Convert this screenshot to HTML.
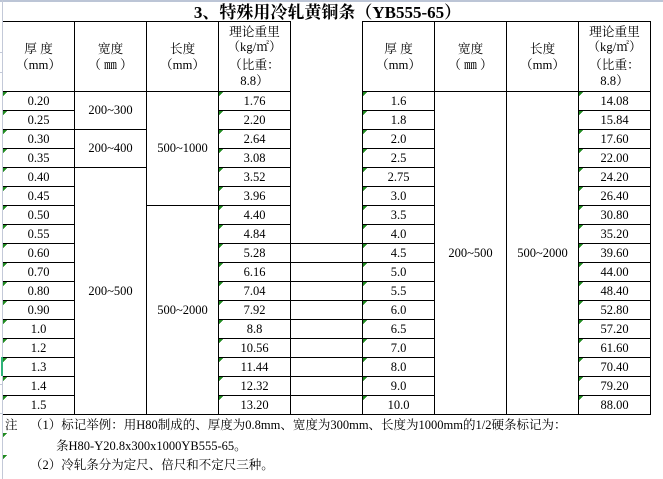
<!DOCTYPE html>
<html><head><meta charset="utf-8">
<style>
html,body{margin:0;padding:0;background:#fff;}
body{width:663px;height:479px;position:relative;overflow:hidden;font-family:"Liberation Serif","Noto Serif CJK SC",serif;color:#000;}
.t{position:absolute;white-space:nowrap;text-align:center;font-size:12.5px;line-height:19px;height:19px;}
.h{position:absolute;white-space:nowrap;text-align:center;font-size:12.7px;line-height:16px;height:16px;}
.c1{left:3px;width:71px;}
.c2{left:75px;width:71px;}
.c3{left:147px;width:71px;}
.c4{left:219px;width:71px;}
.c6{left:363px;width:71px;}
.c7{left:435px;width:71px;}
.c8{left:507px;width:71px;}
.c9{left:579px;width:71px;}
.n{position:absolute;white-space:nowrap;font-size:12.5px;line-height:19px;height:19px;}
</style></head><body>
<svg width="663" height="479" style="position:absolute;left:0;top:0" shape-rendering="crispEdges">
<defs>
<pattern id="tri1" x="3" y="91" width="10" height="19" patternUnits="userSpaceOnUse">
<polygon points="0,1 4,1 0,5" fill="#1f8a1f"/>
</pattern>
<pattern id="tri4" x="219" y="91" width="10" height="19" patternUnits="userSpaceOnUse">
<polygon points="0,1 4,1 0,5" fill="#1f8a1f"/>
</pattern>
<pattern id="tri6" x="363" y="91" width="10" height="19" patternUnits="userSpaceOnUse">
<polygon points="0,1 4,1 0,5" fill="#1f8a1f"/>
</pattern>
<pattern id="tri9" x="579" y="91" width="10" height="19" patternUnits="userSpaceOnUse">
<polygon points="0,1 4,1 0,5" fill="#1f8a1f"/>
</pattern>
</defs>
<rect x="0" y="0" width="663" height="2" fill="#bcc5d6"/>
<rect x="2" y="0" width="1" height="479" fill="#c3c9d8"/>
<rect x="0" y="52" width="2" height="1" fill="#c3c9d8"/>
<rect x="0" y="72" width="2" height="1" fill="#c3c9d8"/>
<rect x="0" y="384" width="2" height="1" fill="#c3c9d8"/>
<rect x="0" y="413" width="2" height="1" fill="#c3c9d8"/>
<rect x="1" y="357" width="2" height="19" fill="#2fb27a"/>
<g stroke="#000" stroke-width="1" fill="none">
<path d="M3 21.5H291M362 21.5H651M3 91.5H291M362 91.5H651M3 414.5H651"/>
<path d="M3 110.5H75M218 110.5H291M362 110.5H435M578 110.5H651
M3 129.5H147M218 129.5H291M362 129.5H435M578 129.5H651
M3 148.5H75M218 148.5H291M362 148.5H435M578 148.5H651
M3 167.5H147M218 167.5H291M362 167.5H435M578 167.5H651
M3 186.5H75M218 186.5H291M362 186.5H435M578 186.5H651
M3 205.5H75M146 205.5H291M362 205.5H435M578 205.5H651
M3 224.5H75M218 224.5H291M362 224.5H435M578 224.5H651
M3 243.5H75M218 243.5H435M578 243.5H651
M3 262.5H75M218 262.5H435M578 262.5H651
M3 281.5H75M218 281.5H435M578 281.5H651
M3 300.5H75M218 300.5H435M578 300.5H651
M3 319.5H75M218 319.5H435M578 319.5H651
M3 338.5H75M218 338.5H435M578 338.5H651
M3 357.5H75M218 357.5H435M578 357.5H651
M3 376.5H75M218 376.5H435M578 376.5H651
M3 395.5H75M218 395.5H435M578 395.5H651"/>
<path d="M74.5 21V415M146.5 21V415M218.5 21V415M290.5 21V415M362.5 21V415M434.5 21V415M506.5 21V415M578.5 21V415M650.5 21V415"/>
</g>
<rect x="3" y="91" width="6" height="323" fill="url(#tri1)"/>
<rect x="219" y="91" width="6" height="323" fill="url(#tri4)"/>
<rect x="363" y="91" width="6" height="323" fill="url(#tri6)"/>
<rect x="579" y="91" width="6" height="323" fill="url(#tri9)"/>
<polygon points="3,433 7,433 3,437" fill="#1f8a1f"/>
<polygon points="3,455 7,455 3,459" fill="#1f8a1f"/>
</svg>

<div style="position:absolute;left:0;top:2px;width:655px;height:21px;line-height:21px;text-align:center;font-size:17px;font-weight:bold;white-space:nowrap;">3、特殊用冷轧黄铜条（YB555-65）</div>

<!-- headers left -->
<div class="h c1" style="top:41px">厚 度</div>
<div class="h c1" style="top:57px">（mm）</div>
<div class="h c2" style="top:41px">宽度</div>
<div class="h c2" style="top:57px">（ ㎜ ）</div>
<div class="h c3" style="top:41px">长度</div>
<div class="h c3" style="top:57px">（mm）</div>
<div class="h c4" style="top:24px">理论重里</div>
<div class="h c4" style="top:39px">（kg/㎡）</div>
<div class="h c4" style="top:57px">（比重：</div>
<div class="h c4" style="top:73px">8.8）</div>
<!-- headers right -->
<div class="h c6" style="top:41px">厚 度</div>
<div class="h c6" style="top:57px">（mm）</div>
<div class="h c7" style="top:41px">宽度</div>
<div class="h c7" style="top:57px">（ ㎜ ）</div>
<div class="h c8" style="top:41px">长度</div>
<div class="h c8" style="top:57px">（mm）</div>
<div class="h c9" style="top:24px">理论重里</div>
<div class="h c9" style="top:39px">（kg/㎡）</div>
<div class="h c9" style="top:57px">（比重：</div>
<div class="h c9" style="top:73px">8.8）</div>

<!-- left thickness -->
<div class="t c1" style="top:92px">0.20</div>
<div class="t c1" style="top:111px">0.25</div>
<div class="t c1" style="top:130px">0.30</div>
<div class="t c1" style="top:149px">0.35</div>
<div class="t c1" style="top:168px">0.40</div>
<div class="t c1" style="top:187px">0.45</div>
<div class="t c1" style="top:206px">0.50</div>
<div class="t c1" style="top:225px">0.55</div>
<div class="t c1" style="top:244px">0.60</div>
<div class="t c1" style="top:263px">0.70</div>
<div class="t c1" style="top:282px">0.80</div>
<div class="t c1" style="top:301px">0.90</div>
<div class="t c1" style="top:320px">1.0</div>
<div class="t c1" style="top:339px">1.2</div>
<div class="t c1" style="top:358px">1.3</div>
<div class="t c1" style="top:377px">1.4</div>
<div class="t c1" style="top:396px">1.5</div>

<!-- left width/length merged -->
<div class="t c2" style="top:101px">200~300</div>
<div class="t c2" style="top:139px">200~400</div>
<div class="t c2" style="top:282px">200~500</div>
<div class="t c3" style="top:139px">500~1000</div>
<div class="t c3" style="top:301px">500~2000</div>

<!-- left weight -->
<div class="t c4" style="top:92px">1.76</div>
<div class="t c4" style="top:111px">2.20</div>
<div class="t c4" style="top:130px">2.64</div>
<div class="t c4" style="top:149px">3.08</div>
<div class="t c4" style="top:168px">3.52</div>
<div class="t c4" style="top:187px">3.96</div>
<div class="t c4" style="top:206px">4.40</div>
<div class="t c4" style="top:225px">4.84</div>
<div class="t c4" style="top:244px">5.28</div>
<div class="t c4" style="top:263px">6.16</div>
<div class="t c4" style="top:282px">7.04</div>
<div class="t c4" style="top:301px">7.92</div>
<div class="t c4" style="top:320px">8.8</div>
<div class="t c4" style="top:339px">10.56</div>
<div class="t c4" style="top:358px">11.44</div>
<div class="t c4" style="top:377px">12.32</div>
<div class="t c4" style="top:396px">13.20</div>

<!-- right thickness -->
<div class="t c6" style="top:92px">1.6</div>
<div class="t c6" style="top:111px">1.8</div>
<div class="t c6" style="top:130px">2.0</div>
<div class="t c6" style="top:149px">2.5</div>
<div class="t c6" style="top:168px">2.75</div>
<div class="t c6" style="top:187px">3.0</div>
<div class="t c6" style="top:206px">3.5</div>
<div class="t c6" style="top:225px">4.0</div>
<div class="t c6" style="top:244px">4.5</div>
<div class="t c6" style="top:263px">5.0</div>
<div class="t c6" style="top:282px">5.5</div>
<div class="t c6" style="top:301px">6.0</div>
<div class="t c6" style="top:320px">6.5</div>
<div class="t c6" style="top:339px">7.0</div>
<div class="t c6" style="top:358px">8.0</div>
<div class="t c6" style="top:377px">9.0</div>
<div class="t c6" style="top:396px">10.0</div>

<div class="t c7" style="top:244px">200~500</div>
<div class="t c8" style="top:244px">500~2000</div>

<!-- right weight -->
<div class="t c9" style="top:92px">14.08</div>
<div class="t c9" style="top:111px">15.84</div>
<div class="t c9" style="top:130px">17.60</div>
<div class="t c9" style="top:149px">22.00</div>
<div class="t c9" style="top:168px">24.20</div>
<div class="t c9" style="top:187px">26.40</div>
<div class="t c9" style="top:206px">30.80</div>
<div class="t c9" style="top:225px">35.20</div>
<div class="t c9" style="top:244px">39.60</div>
<div class="t c9" style="top:263px">44.00</div>
<div class="t c9" style="top:282px">48.40</div>
<div class="t c9" style="top:301px">52.80</div>
<div class="t c9" style="top:320px">57.20</div>
<div class="t c9" style="top:339px">61.60</div>
<div class="t c9" style="top:358px">70.40</div>
<div class="t c9" style="top:377px">79.20</div>
<div class="t c9" style="top:396px">88.00</div>

<!-- notes -->
<div class="n" style="left:5px;top:416px">注</div>
<div class="n" style="left:30px;top:416px">（1）标记举例：用H80制成的、厚度为0.8mm、宽度为300mm、长度为1000mm的1/2硬条标记为：</div>
<div class="n" style="left:56px;top:437px">条H80-Y20.8x300x1000YB555-65。</div>
<div class="n" style="left:30px;top:456px">（2）冷轧条分为定尺、倍尺和不定尺三种。</div>
</body></html>
